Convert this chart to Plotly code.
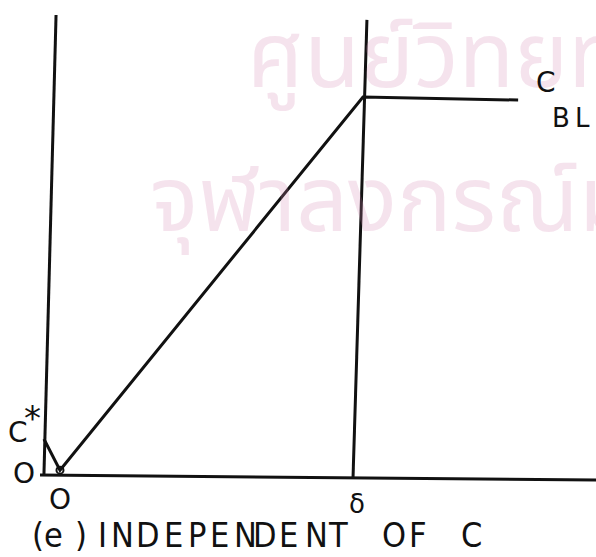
import plotly.graph_objects as go

# Concentration profile across the film: distance in units of delta,
# concentration in units of the bulk liquid concentration C_BL.
dist_profile = [-0.053, 0.0, 1.0, 1.512]
conc_profile = [0.10, 0.018, 1.0, 0.992]

# Axis tick labels
x_ticks = [0.0, 1.0]
x_tick_labels = ["O", "δ"]
y_tick_labels = ["O", "C"]

# Caption, lettered by hand: each glyph with its centre (page pixels)
caption_glyphs = list("(e)INDEPENDENTOFC")
caption_centres = [38, 53, 81, 102, 122, 148, 173, 197, 219, 245, 265, 288, 316, 338,
                   394, 418, 471]

X_RANGE = [-0.198, 1.769]
Y_RANGE = [-0.2105, 1.2553]
W, H = 596, 557

INK = "#111111"
FONT = "DejaVu Sans, Liberation Sans, sans-serif"
NARROW = "DejaVu Sans Condensed, Liberation Sans Narrow, DejaVu Sans, sans-serif"
THIN = "\u2009"

fig = go.Figure()

# Frame lines: vertical axis, baseline, and the film edge at delta
frame = [
    (-0.053, 0.005, -0.013, 1.216),   # left axis
    (-0.066, 0.005, 1.769, -0.008),   # baseline
    (0.967, -0.005, 1.013, 1.203),    # film boundary at delta
]
for x0, y0, x1, y1 in frame:
    fig.add_shape(type="line", x0=x0, y0=y0, x1=x1, y1=y1,
                  line=dict(color=INK, width=3))

# Profile line
fig.add_trace(go.Scatter(x=dist_profile, y=conc_profile, mode="lines",
                         line=dict(color=INK, width=3), hoverinfo="skip",
                         showlegend=False))
# Small circle at the interface minimum
fig.add_trace(go.Scatter(x=[dist_profile[1]], y=[conc_profile[1]], mode="markers",
                         marker=dict(size=7, color="rgba(0,0,0,0)",
                                     line=dict(color=INK, width=2)),
                         hoverinfo="skip", showlegend=False))

# Faint watermark
wm_color = "rgba(214,140,180,0.24)"
wm_font = dict(family="Noto Sans Thai, Loma, Garuda, Norasi, sans-serif",
               size=91, color=wm_color)
fig.add_annotation(x=0.61, y=1.1, xref="x", yref="y", text="ศูนย์วิทยท",
                   showarrow=False, xanchor="left", yanchor="middle", font=wm_font)
fig.add_annotation(x=0.29, y=0.72, xref="x", yref="y", text="จุฬาลงกรณ์ม",
                   showarrow=False, xanchor="left", yanchor="middle", font=wm_font)

# Tick labels
fig.add_annotation(x=x_ticks[0], y=-0.06, text=x_tick_labels[0], showarrow=False,
                   font=dict(family=FONT, size=28, color=INK))
fig.add_annotation(x=x_ticks[1] - 0.02, y=-0.07, text=x_tick_labels[1], showarrow=False,
                   font=dict(family=FONT, size=26, color=INK))
fig.add_annotation(x=-0.12, y=0.01, text=y_tick_labels[0], showarrow=False,
                   font=dict(family=FONT, size=28, color=INK))
fig.add_annotation(x=-0.138, y=0.118, text=y_tick_labels[1], showarrow=False,
                   font=dict(family=FONT, size=28, color=INK))
fig.add_annotation(x=-0.09, y=0.155, text="*", showarrow=False,
                   font=dict(family=FONT, size=34, color=INK))

# Bulk concentration label
fig.add_annotation(x=1.604, y=1.038, text="C", showarrow=False,
                   font=dict(family=FONT, size=28, color=INK))
fig.add_annotation(x=1.688, y=0.944, text="B" + THIN + "L", showarrow=False,
                   font=dict(family=FONT, size=26, color=INK))

# Caption "(e) INDEPENDENT OF C"
for ch, cx in zip(caption_glyphs, caption_centres):
    fig.add_annotation(x=cx / W, y=1 - 535 / H, xref="paper", yref="paper",
                       text=ch, showarrow=False, xanchor="center", yanchor="middle",
                       font=dict(family=NARROW, size=34, color=INK))

fig.update_xaxes(range=X_RANGE, visible=False, showgrid=False, zeroline=False)
fig.update_yaxes(range=Y_RANGE, visible=False, showgrid=False, zeroline=False)
fig.update_layout(width=W, height=H, margin=dict(l=0, r=0, t=0, b=0),
                  plot_bgcolor="white", paper_bgcolor="white", showlegend=False)

fig.write_html("out.html")
